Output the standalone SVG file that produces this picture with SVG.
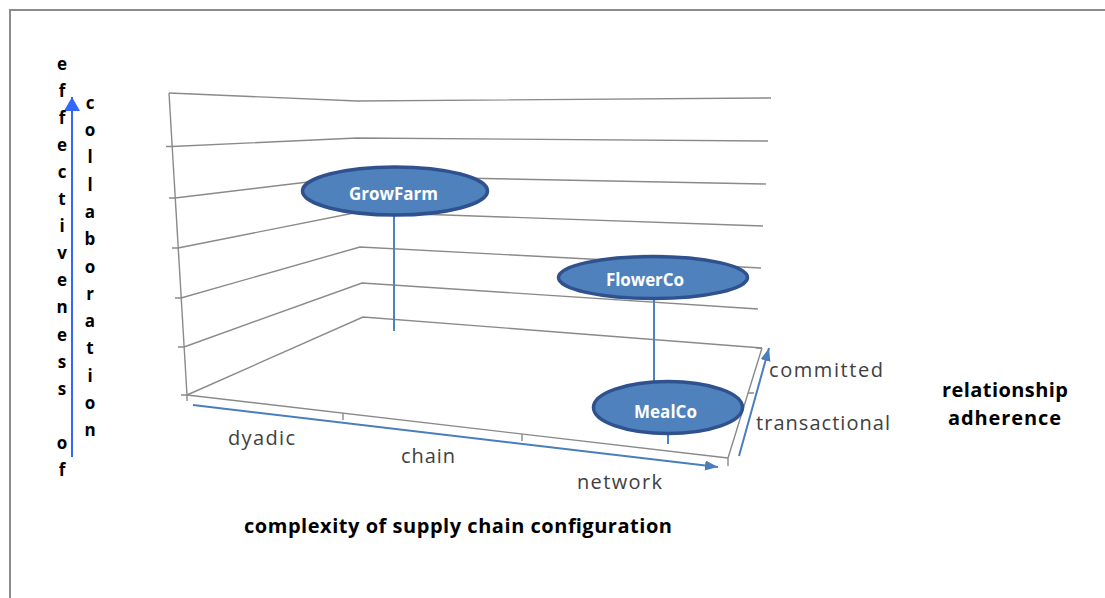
<svg xmlns="http://www.w3.org/2000/svg" width="1105" height="598" viewBox="0 0 1105 598">
<style>
.frame{stroke:#8c8c8c;stroke-width:2;fill:none}
.grid{stroke:#8a8a8a;stroke-width:1.4;fill:none}
.axis{stroke:#4a7ebb;stroke-width:2;fill:none}
.stem{stroke:#4f81bd;stroke-width:2;fill:none}
.node{fill:#4f81bd;stroke:#2f528f;stroke-width:3.5}
.nlabel{font-family:"Open Sans","Liberation Sans",sans-serif;font-weight:bold;font-size:17px;fill:#ffffff}
.tick{font-family:"Open Sans","Liberation Sans",sans-serif;font-size:20px;fill:#404040}
.title{font-family:"Open Sans","Liberation Sans",sans-serif;font-weight:bold;font-size:20px;fill:#000000}
.col{font-family:"Open Sans","Liberation Sans",sans-serif;font-weight:bold;font-size:17px;fill:#000000;text-anchor:middle}
</style>
<defs>
<marker id="ab" markerUnits="userSpaceOnUse" markerWidth="14" markerHeight="11" refX="13" refY="5" orient="auto">
<path d="M0,0 L13,5 L0,10 z" fill="#4a7ebb"/>
</marker>
<marker id="al" markerUnits="userSpaceOnUse" markerWidth="15" markerHeight="17" refX="14" refY="8" orient="auto">
<path d="M0,0 L14,8 L0,16 z" fill="#3366ff"/>
</marker>
</defs>
<rect width="1105" height="598" fill="#ffffff"/>
<path class="frame" d="M1105,10 L10,10 L10,598"/>

<g id="grid">
<polyline class="grid" points="169,93 357,101 771,98"/>
<polyline class="grid" points="172,146.5 357,138 768,141"/>
<polyline class="grid" points="175,198 358,176 766,184"/>
<polyline class="grid" points="178,248 359,212 763,226"/>
<polyline class="grid" points="181,298 360,247 761,268"/>
<polyline class="grid" points="184,347 362,283 758,309"/>
<polyline class="grid" points="187,395 363,317 762,348"/>
<line class="grid" x1="169" y1="93" x2="187" y2="395"/>
<line class="grid" x1="187" y1="395" x2="728" y2="458"/>
<line class="grid" x1="762" y1="348" x2="728" y2="458"/>
<path class="grid" d="M166,146.5 H172 M169,198 H175 M172,248 H178 M175,298 H181 M178,347 H184 M181,395 H187 M187,395 V401 M343,413 V420 M522,434 V441 M728,458 V466 M756,348 H762 M748,393 H754"/>
</g>

<g id="connectors">
<line class="axis" x1="193" y1="405" x2="718" y2="467" marker-end="url(#ab)"/>
<line class="axis" x1="739" y1="456" x2="769" y2="348" marker-end="url(#ab)"/>
<line x1="72" y1="457" x2="72" y2="97" stroke="#3366ff" stroke-width="2" marker-end="url(#al)"/>
<line class="stem" x1="394" y1="214" x2="394" y2="331"/>
<line class="stem" x1="654" y1="298" x2="654" y2="386"/>
<line class="stem" x1="668" y1="432" x2="668" y2="444"/>
</g>

<g id="GrowFarm">
<ellipse class="node" cx="395" cy="191" rx="92.5" ry="24"/>
<text class="nlabel" x="349" y="199.5" textLength="89">GrowFarm</text>
</g>
<g id="FlowerCo">
<ellipse class="node" cx="653" cy="277.5" rx="94.5" ry="21"/>
<text class="nlabel" x="606" y="285.5" textLength="78">FlowerCo</text>
</g>
<g id="MealCo">
<ellipse class="node" cx="668" cy="407.5" rx="74.5" ry="26"/>
<text class="nlabel" x="634" y="418" textLength="63">MealCo</text>
</g>

<g id="labels">
<text class="tick" x="228" y="445" textLength="67">dyadic</text>
<text class="tick" x="401" y="463" textLength="54">chain</text>
<text class="tick" x="577" y="489" textLength="85">network</text>
<text class="tick" x="769" y="377" textLength="114">committed</text>
<text class="tick" x="756" y="430" textLength="134">transactional</text>
<text class="title" x="942" y="397" textLength="126">relationship</text>
<text class="title" x="948" y="425" textLength="113">adherence</text>
<text class="title" x="244" y="533" textLength="428">complexity of supply chain configuration</text>
<text class="col"><tspan x="62" y="69.5">e</tspan><tspan x="62" y="96.6">f</tspan><tspan x="62" y="123.7">f</tspan><tspan x="62" y="150.8">e</tspan><tspan x="62" y="177.9">c</tspan><tspan x="62" y="205">t</tspan><tspan x="62" y="232.1">i</tspan><tspan x="62" y="259.2">v</tspan><tspan x="62" y="286.3">e</tspan><tspan x="62" y="313.4">n</tspan><tspan x="62" y="340.5">e</tspan><tspan x="62" y="367.6">s</tspan><tspan x="62" y="394.7">s</tspan><tspan x="62" y="448.9">o</tspan><tspan x="62" y="476">f</tspan></text>
<text class="col"><tspan x="90" y="108.8">c</tspan><tspan x="90" y="136.1">o</tspan><tspan x="90" y="163.4">l</tspan><tspan x="90" y="190.6">l</tspan><tspan x="90" y="217.9">a</tspan><tspan x="90" y="245.2">b</tspan><tspan x="90" y="272.5">o</tspan><tspan x="90" y="299.8">r</tspan><tspan x="90" y="327">a</tspan><tspan x="90" y="354.3">t</tspan><tspan x="90" y="381.6">i</tspan><tspan x="90" y="408.9">o</tspan><tspan x="90" y="436.2">n</tspan></text>
</g>
</svg>
